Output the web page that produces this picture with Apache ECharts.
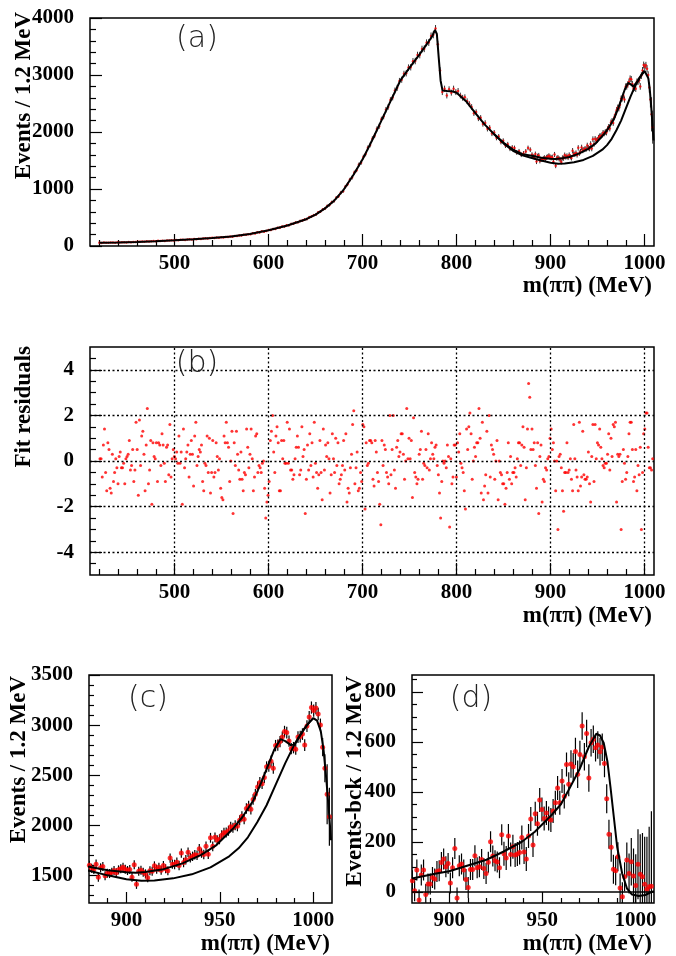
<!DOCTYPE html>
<html><head><meta charset="utf-8">
<script src="https://cdn.jsdelivr.net/npm/echarts@6/dist/echarts.min.js"></script>
<style>html,body{margin:0;padding:0;background:#fff}#c{width:676px;height:956px}</style>
</head><body><div id="c"></div>
<script>
// ---------------- DATA ----------------
// Panel (a): events per bin, 420 -> 878.4 MeV (2.4 MeV spacing)
const countsLo = [
57,52,61,58,55,63,60,57,66,61,
64,67,62,70,65,72,69,75,73,78,
76,83,79,84,86,82,90,87,94,89,
98,95,101,97,106,102,108,111,105,114,
118,113,123,119,127,124,131,136,130,139,
144,139,150,146,155,151,160,158,168,163,
177,174,186,183,199,196,208,206,225,221,
240,238,257,252,265,280,279,300,298,318,
320,341,340,364,362,388,389,414,416,440,
446,466,472,505,516,540,552,590,604,640,
656,700,720,768,788,845,872,936,962,1040,
1082,1162,1200,1288,1330,1425,1462,1562,1612,1722,
1772,1882,1935,2052,2100,2222,2270,2390,2440,2560,
2605,2728,2775,2895,2918,3020,3030,3130,3136,3240,
3245,3350,3350,3455,3460,3565,3570,3685,3705,3815,
3540,3080,2700,2760,2640,2750,2690,2760,2700,2720,
2640,2600,2610,2540,2490,2440,2330,2350,2238,2250,
2140,2160,2055,2075,1972,1990,1898,1920,1826,1846,
1762,1785,1705,1728,1720,1640,1662,1600,1625,1660,
1720,1690];
const errLo = [
8,8,8,8,8,8,8,8,8,8,
9,9,9,9,9,9,9,9,9,9,
9,9,9,9,9,9,10,10,10,10,
10,10,10,10,10,10,10,10,11,11,
11,11,11,11,11,11,12,12,12,12,
12,12,12,12,12,12,13,13,13,13,
13,13,14,14,14,14,15,15,15,15,
16,16,16,16,16,17,17,17,17,18,
18,18,18,19,19,20,20,20,20,21,
21,22,22,23,23,23,23,24,24,25,
25,27,27,28,28,29,29,31,31,32,
33,34,35,36,36,38,38,40,40,42,
42,44,44,45,46,47,48,49,49,51,
51,52,53,54,54,55,55,56,56,57,
57,58,58,59,59,60,60,61,61,62,
60,56,52,53,51,52,52,53,52,52,
51,51,51,50,50,49,48,48,47,47,
46,46,45,46,44,45,44,44,43,43,
42,42,41,42,41,41,41,40,40,41,
41,41];
// Panels (a),(c): events per 1.2 MeV bin, 880.2 -> 1008.6 MeV
const countsC = [
1600,1572,1558,1612,1482,1575,1588,1495,1520,1518,
1532,1548,1525,1555,1565,1582,1562,1548,1558,1480,
1605,1410,1540,1552,1530,1515,1475,1545,1540,1595,
1560,1580,1552,1598,1565,1545,1672,1612,1608,1630,
1598,1722,1628,1655,1730,1675,1690,1705,1700,1765,
1722,1708,1790,1710,1875,1790,1880,1850,1860,1900,
1925,1927,1945,1985,1975,2000,1990,2050,2090,2060,
2167,2193,2160,2257,2310,2383,2427,2415,2477,2583,
2590,2640,2570,2795,2800,2835,2880,2935,2925,2840,
2765,2775,2760,2880,2885,2910,2800,2990,3080,3175,
3145,3170,3110,3000,2780,2570,2310,2085];
const errC = [
45,45,45,45,45,45,45,45,45,45,
45,45,45,45,45,45,45,45,45,45,
45,45,45,45,45,45,45,45,45,45,
45,45,45,45,45,45,47,47,47,47,
47,47,47,47,47,47,47,47,47,47,
47,47,48,48,49,49,49,50,50,50,
50,50,50,50,50,50,50,50,50,50,
52,52,52,53,53,54,54,54,55,55,
55,56,56,57,57,57,57,58,58,57,
57,57,57,58,58,58,58,59,60,61,
61,61,62,65,90,140,300,290];
// Panel (d): events minus background, same bins
const countsD = [
44,4,87,-33,67,87,-11,31,31,57,
51,81,84,117,131,100,113,35,96,173,
-25,104,111,87,49,17,89,89,144,96,
100,129,93,73,118,200,143,124,119,96,
228,152,135,223,149,180,147,151,157,217,
159,131,223,291,187,312,272,367,329,293,
315,293,287,323,356,415,356,443,381,509,
430,511,500,561,470,549,663,540,633,455,
596,610,576,587,560,578,513,372,230,178,
90,84,140,15,-20,60,127,73,120,63,
25,110,70,60,30,10,20,22];
const errD = [
42,42,42,42,42,42,42,42,42,42,
42,42,42,42,42,42,42,42,42,42,
42,42,42,42,42,42,42,42,42,42,
42,42,42,42,42,42,42,42,42,42,
42,48,48,48,48,48,48,48,48,48,
48,48,48,48,48,48,48,48,48,48,
48,48,48,48,48,48,48,48,48,48,
48,55,55,55,55,55,55,55,55,55,
55,55,55,55,55,55,55,58,58,58,
58,58,58,58,58,58,70,80,95,110,
125,140,160,175,190,210,240,300];
// Panel (b): fit residuals, 1.2 MeV bins from 420.6 MeV
const residuals = [
0.1,0.1,-0.7,0.7,1.4,-0.5,-1.3,0.8,0.5,-1.2,
-1.4,0.3,-0.9,-0.5,0.1,-0.3,-1.0,0.2,0.4,-0.3,
-0.3,-0.1,-1.0,0.1,0.2,0.3,0.9,-0.4,-0.2,
0.5,-0.9,-0.4,1.7,0.5,-1.5,1.8,-0.2,1.1,1.3,
0.3,-1.3,0.7,2.3,-1.0,-0.4,0.9,-1.9,0.8,0.2,
0.1,0.8,-0.9,0.8,0.7,-0.2,1.2,0.7,-0.1,-0.9,
0.6,0.7,-0.6,1.6,-0.7,0.1,0.5,0.2,0.1,
0.4,-0.1,1.1,-0.1,0.4,-1.9,1.4,-0.3,0.1,
0.4,0.7,-0.7,0.3,0.9,0.3,-1.1,1.1,1.7,-0.2,
0.2,0.5,0.4,0.7,-0.9,-1.3,-0.1,-0.2,1.1,
-0.5,1.0,-1.4,-0.5,0.9,-0.7,-0.5,0.8,0.2,-0.4,
0.1,-1.2,-1.6,-1.7,1.1,0.8,1.7,0.8,0.6,-0.9,
0.0,1.3,-2.3,0.8,-0.2,1.3,0.3,
-0.4,-0.8,0.4,-0.8,-1.3,-0.5,-0.6,1.4,0.6,-0.3,
0.3,1.4,0.1,-1.3,-0.7,1.1,1.2,-0.5,-0.2,-0.3,
-0.5,-0.1,0.0,-1.2,-2.5,-1.8,-1.5,-0.9,0.9,1.3,
2.0,0.4,-0.5,1.1,1.5,0.8,-1.3,-1.3,0.9,0.1,
0.9,-0.1,-0.1,1.7,-0.1,1.4,-0.4,-0.4,-0.8,-0.6,
0.1,0.6,1.1,0.6,-0.6,-0.4,1.5,0.2,0.5,-2.3,
-0.8,0.7,-0.4,1.2,-0.2,0.8,-0.7,1.7,-0.1,-0.5,
-1.2,-0.6,0.9,-0.5,-1.7,1.4,-0.4,0.7,0.2,0.8,
0.1,-1.4,-0.6,1.2,0.1,-0.5,1.0,-0.2,0.8,-1.0,
-0.8,-0.6,-0.2,0.9,-0.4,1.2,-1.8,-1.2,-1.4,-0.3,
0.3,1.6,2.2,-1.0,-0.3,0.4,-1.3,-1.2,-0.5,-0.9,
1.6,1.5,-2.1,0.8,-0.2,-0.1,0.9,0.9,0.8,-0.8,
-1.1,0.9,0.4,-0.5,-0.9,-1.9,-2.8,0.9,-0.2,0.7,
0.5,
-0.5,-0.7,-1.0,2.0,-0.6,0.5,2.0,-0.4,-1.2,0.6,
0.9,0.2,0.4,1.2,1.2,0.3,-0.8,0.0,2.3,0.1,
1.0,0.1,0.9,-1.6,1.9,-0.5,-0.7,-1.0,-0.8,0.3,
0.5,1.3,-0.8,-0.1,-0.2,0.5,-0.3,1.2,-0.4,0.1,
0.8,0.3,0.1,0.6,0.7,-0.2,-0.6,-1.4,-2.5,-0.9,
0.0,-0.1,0.0,-0.3,0.7,0.2,-2.9,0.1,-1.0,-0.7,
0.7,0.7,-0.7,0.8,0.4,1.2,-0.1,-0.3,-0.5,-1.3,
-2.1,1.4,0.5,1.5,2.1,1.2,-0.8,0.0,0.6,0.2,
0.8,0.8,2.3,1.0,-1.4,1.7,-1.7,-1.1,-0.6,1.3,
-1.4,2.0,-0.7,0.7,0.5,0.3,-0.8,0.0,0.9,-1.7,
0.0,-0.5,-0.6,-1.0,-1.0,-1.9,-1.2,-0.5,0.8,-0.8,
0.2,-1.0,-0.5,-0.5,-0.3,-0.7,0.1,0.8,0.8,-0.2,
0.7,1.5,0.6,-1.7,-0.3,1.4,3.4,2.8,0.5,
1.4,0.5,0.8,-0.2,-1.2,0.8,-2.3,0.2,0.7,-1.8,
-0.8,-0.9,-0.3,-0.4,0.1,0.2,1.0,1.4,0.5,0.8,
0.0,-1.3,0.0,-3.0,0.2,0.3,-0.3,-1.3,-2.2,-0.5,
-0.5,0.8,-0.5,-0.4,0.1,-0.8,-1.3,1.6,0.1,-0.4,
-0.7,-1.3,1.7,-1.1,-0.7,1.3,-0.6,-0.8,-0.8,-0.7,
0.4,-1.0,-1.8,0.2,1.6,-0.9,1.6,0.1,0.8,0.7,
1.4,0.6,0.1,-0.2,-0.3,-0.1,-0.1,0.3,1.2,-0.4,
1.0,0.2,1.6,1.5,1.7,-1.8,0.3,0.2,0.3,-3.0,
-0.9,0.5,-0.1,-0.8,-0.5,0.2,1.2,1.7,1.7,0.5,
-0.9,-0.7,0.5,-1.3,-0.2,-0.6,0.6,-3.0,-0.5,1.2,
1.4,2.1,2.1,0.6,-0.3,-0.3,-0.4,0.1];
// Full fit curve
const fitX = [420,440,460,480,500,520,540,560,580,600,620,640,650,660,670,680,690,700,710,720,730,740,750,760,770,774,777,779,781,783,785,790,795,800,810,820,830,840,850,860,870,880,890,900,905,910,920,930,940,948,957,962,968,972,975,979,982.5,985,988,990,993,996.5,1000,1002,1004,1005.5,1007,1008.5,1009.5];
const fitY = [55,62,72,85,100,118,140,165,210,275,360,470,550,660,800,990,1240,1520,1850,2200,2550,2900,3130,3350,3580,3680,3790,3720,3300,2900,2730,2720,2715,2690,2540,2330,2130,1960,1810,1690,1610,1585,1550,1532,1527,1533,1562,1620,1705,1800,1965,2080,2250,2420,2560,2750,2860,2840,2800,2805,2900,3000,3070,3045,2940,2750,2450,2100,1850];
// Second curve (without f0 contribution)
const lowX = [840,850,860,870,880,890,900,908,915,925,935,945,955,960,965,970,975,980,985,990,995,998,1000];
const lowY = [1960,1800,1670,1590,1545,1500,1462,1445,1448,1470,1510,1580,1690,1770,1880,2030,2200,2410,2620,2810,2960,3030,3070];
// Panel (d) fit
const dFitX = [880,893,900,910,920,929,939,946,955,960,964,970,975,979,981,983,985,986.6,988.4,990.2,992.9,995.5,998.2,1001.8,1005.3,1008,1010];
const dFitY = [53,73,82,105,128,160,200,240,307,350,405,490,580,632,625,595,520,420,300,180,73,13,-11,-17,-13,-3,2];
// Ticks
const abXMajor = [500,600,700,800,900,1000];
const abXMinor = [420,440,460,480,520,540,560,580,620,640,660,680,720,740,760,780,820,840,860,880,920,940,960,980];
const aYMajor = [0,1000,2000,3000,4000];
const aYMinor = [200,400,600,800,1200,1400,1600,1800,2200,2400,2600,2800,3200,3400,3600,3800];
const bYMajor = [-4,-2,0,2,4];
const bYMinor = [-4.5,-3.5,-3,-2.5,-1.5,-1,-0.5,0.5,1,1.5,2.5,3,3.5,4.5];
const cdXMajor = [900,950,1000];
const cdXMinor = [890,910,920,930,940,960,970,980,990];
const cYMajor = [1500,2000,2500,3000,3500];
const cYMinor = [1300,1400,1600,1700,1800,1900,2100,2200,2300,2400,2600,2700,2800,2900,3100,3200,3300,3400];
const dYMajor = [0,200,400,600,800];
const dYMinor = [50,100,150,250,300,350,450,500,550,650,700,750,850];
// Bin grids
const massLo = countsLo.map((_, i) => +(420 + 2.4 * i).toFixed(1));
const massHi = countsC.map((_, i) => +(880.2 + 1.2 * i).toFixed(1));
const massRes = residuals.map((_, i) => +(420.6 + 1.2 * i).toFixed(1));

// ---------------- CHART ----------------
const chart = echarts.init(document.getElementById('c'));
const LBL = {fontFamily:'Liberation Serif', fontWeight:'bold', fontSize:21, color:'#000',
  formatter:function(v){ return String(v); }};
function axPair(dim, g, min, max, major, minor, majLen, minLen, margin) {
  const pos = dim === 'x' ? 'bottom' : 'left';
  const base = {type:'value', gridIndex:g, min:min, max:max, position:pos,
    axisLine:{show:false, onZero:false}, splitLine:{show:false}};
  const lab = Object.assign({show:true, customValues:major, margin:margin}, LBL);
  if (dim === 'y') { lab.align = 'right'; lab.verticalAlign = 'middle'; }
  else { lab.align = 'center'; lab.verticalAlign = 'top'; }
  return [
    Object.assign({}, base, {
      axisTick:{show:true, inside:true, length:majLen, customValues:major, lineStyle:{color:'#000', width:1.2}},
      axisLabel:lab}),
    Object.assign({}, base, {
      axisTick:{show:true, inside:true, length:minLen, customValues:minor, lineStyle:{color:'#000', width:1.2}},
      axisLabel:{show:false}})
  ];
}
const xAxes = [].concat(
  axPair('x',0,410,1010,abXMajor,abXMinor,12,6,7),
  axPair('x',1,410,1010,abXMajor,abXMinor,12,6,7),
  axPair('x',2,880,1010,cdXMajor,cdXMinor,11,5,7),
  axPair('x',3,880,1010,cdXMajor,cdXMinor,11,5,7));
const yAxes = [].concat(
  axPair('y',0,0,4000,aYMajor,aYMinor,12,6,16),
  axPair('y',1,-5,5,bYMajor,bYMinor,12,6,16),
  axPair('y',2,1224,3500,cYMajor,cYMinor,11,5,16),
  axPair('y',3,-45,867,dYMajor,dYMinor,11,5,16));

function errSeries(ai, data, color, w) {
  return {type:'custom', xAxisIndex:ai, yAxisIndex:ai, clip:true, silent:true, z:1,
    encode:{x:0, y:1},
    renderItem:function(params, api){
      const x = api.value(0), y = api.value(1), e = api.value(2);
      const p1 = api.coord([x, y - e]), p2 = api.coord([x, y + e]);
      return {type:'line', shape:{x1:p1[0], y1:p1[1], x2:p2[0], y2:p2[1]}, style:{stroke:color, lineWidth:w}};
    }, data:data};
}
function pts(ai, data, size) {
  return {type:'scatter', xAxisIndex:ai, yAxisIndex:ai, symbol:'circle', symbolSize:size, z:2,
    itemStyle:{color:'#ff0000'}, data:data, silent:true};
}
function curve(ai, xs, ys, w) {
  return {type:'line', xAxisIndex:ai, yAxisIndex:ai, symbol:'none', showSymbol:false, z:3, silent:true,
    lineStyle:{color:'#000', width:w}, data:xs.map((x,i)=>[x, ys[i]])};
}
const aData = massLo.map((m,i)=>[m, countsLo[i], errLo[i]]).concat(massHi.map((m,i)=>[m, countsC[i], errC[i]]));
const cData = massHi.map((m,i)=>[m, countsC[i], errC[i]]);
const dData = massHi.map((m,i)=>[m, countsD[i], errD[i]]);
const bData = massRes.map((m,i)=>[m, residuals[i]]);

const gridLines = abXMajor.map(v=>({xAxis:v})).concat(bYMajor.map(v=>({yAxis:v})));

const series = [
  errSeries(0, aData, '#333', 1),
  pts(0, aData.map(d=>[d[0], d[1]]), 2.5),
  curve(0, lowX, lowY, 2),
  curve(0, fitX, fitY, 2),
  Object.assign(pts(2, bData, 3), {markLine:{silent:true, symbol:['none','none'], label:{show:false},
    lineStyle:{type:[2,2.5], color:'#000', width:1.3}, data:gridLines, animation:false}}),
  errSeries(4, cData, '#000', 1.2),
  pts(4, cData.map(d=>[d[0], d[1]]), 5),
  curve(4, lowX, lowY, 2),
  curve(4, fitX, fitY, 2),
  errSeries(6, dData, '#000', 1.2),
  Object.assign(pts(6, dData.map(d=>[d[0], d[1]]), 5), {markLine:{silent:true, symbol:['none','none'], label:{show:false},
    lineStyle:{type:'solid', color:'#000', width:1.5}, data:[{yAxis:0}], animation:false}}),
  curve(6, dFitX, dFitY, 2)
];

const TF = {fontFamily:'Liberation Serif', fontWeight:'bold', fontSize:23, fill:'#000'};
function txt(x, y, s, rot, align) {
  return {type:'text', x:x, y:y, rotation:rot||0, silent:true, z:10,
    style:Object.assign({text:s, align:align||'right', textAlign:align||'right', verticalAlign:'middle', textVerticalAlign:'middle'}, TF)};
}
function tag(x, y, s) {
  return {type:'text', x:x, y:y, silent:true, z:10,
    style:{text:s, fontFamily:'DejaVu Sans', fontWeight:200, fontSize:30, fill:'#222', align:'center', textAlign:'center', verticalAlign:'middle', textVerticalAlign:'middle'}};
}
const R = Math.PI / 2;
const graphic = [
  txt(24, 12, 'Events / 1.2 MeV', R), txt(652, 286, 'm(ππ) (MeV)'),
  txt(24, 346, 'Fit residuals', R), txt(652, 616, 'm(ππ) (MeV)'),
  txt(19, 676, 'Events / 1.2 MeV', R), txt(330, 944, 'm(ππ) (MeV)'),
  txt(355, 676, 'Events-bck / 1.2 MeV', R), txt(652, 944, 'm(ππ) (MeV)'),
  tag(197, 39, '(a)'), tag(197, 364, '(b)'), tag(148, 699, '(c)'), tag(471, 699, '(d)')
];

chart.setOption({
  animation:false,
  backgroundColor:'#fff',
  grid:[
    {left:90, top:18, width:564, height:228, show:true, borderColor:'#000', borderWidth:1.5, backgroundColor:'transparent'},
    {left:90, top:347, width:564, height:228, show:true, borderColor:'#000', borderWidth:1.5, backgroundColor:'transparent'},
    {left:89, top:675, width:243, height:228, show:true, borderColor:'#000', borderWidth:1.5, backgroundColor:'transparent'},
    {left:412, top:675, width:242, height:228, show:true, borderColor:'#000', borderWidth:1.5, backgroundColor:'transparent'}
  ],
  xAxis:xAxes, yAxis:yAxes, series:series, graphic:graphic
});
</script></body></html>
